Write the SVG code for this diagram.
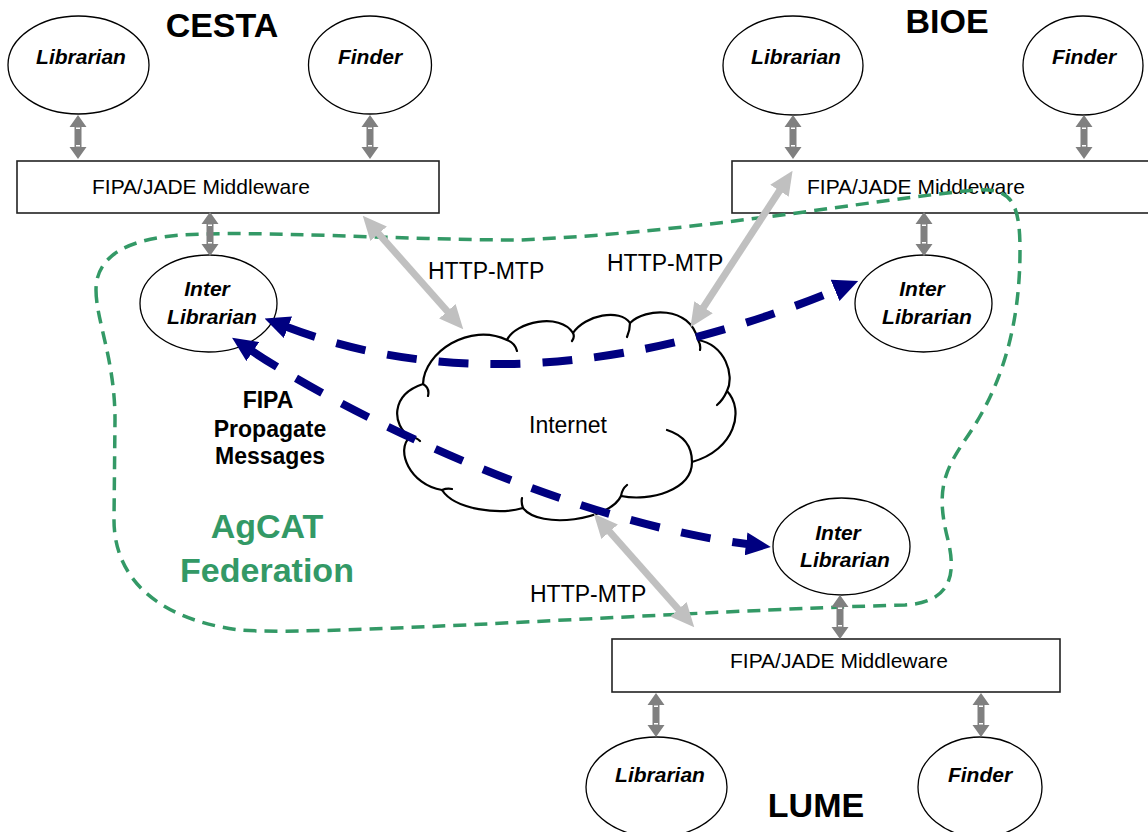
<svg xmlns="http://www.w3.org/2000/svg" width="1148" height="832" viewBox="0 0 1148 832">
<style>
text{font-family:"Liberation Sans",Arial,sans-serif;fill:#000}
.title{font-size:34px;font-weight:bold;text-anchor:middle}
.agent{font-size:21px;font-weight:bold;font-style:italic;text-anchor:middle}
.mw{font-size:21px}
.lbl{font-size:23px}
.fipa{font-size:23px;font-weight:bold;text-anchor:middle}
.fed{font-size:34px;font-weight:bold;text-anchor:middle;fill:#339966}
.node{fill:#fff;stroke:#000;stroke-width:1.3}
.box{fill:#fff;stroke:#222;stroke-width:1.6}
.cloud{fill:#fff;stroke:#000;stroke-width:2.2;stroke-linejoin:round}
.hook{fill:none;stroke:#000;stroke-width:2.2;stroke-linecap:round}
.http{stroke:#c0c0c0;stroke-width:7;fill:none;marker-start:url(#gh);marker-end:url(#gh)}
.fipaArrow{stroke:#000080;stroke-width:8;fill:none;stroke-dasharray:30 22;marker-start:url(#bh);marker-end:url(#bh)}
.boundary{fill:none;stroke:#339966;stroke-width:3.5;stroke-dasharray:13 8}
</style>
<defs>
<marker id="gh" markerUnits="userSpaceOnUse" markerWidth="24" markerHeight="22" viewBox="0 0 24 22" refX="1" refY="11" orient="auto-start-reverse"><path d="M0,0 L24,11 L0,22 Z" fill="#c0c0c0"/></marker>
<marker id="bh" markerUnits="userSpaceOnUse" markerWidth="25" markerHeight="23" viewBox="0 0 25 23" refX="1" refY="11.5" orient="auto-start-reverse"><path d="M0,0 L25,11.5 L0,23 Z" fill="#000080"/></marker>
<g id="va"><path d="M0,0 L8.5,12 L3.5,12 L3.5,32 L8.5,32 L0,44 L-8.5,32 L-3.5,32 L-3.5,12 L-8.5,12 Z" fill="#808080"/><rect x="-2" y="12.5" width="4" height="1.5" fill="#fff"/><rect x="-2" y="30" width="4" height="1.5" fill="#fff"/></g>
</defs>
<rect width="1148" height="832" fill="#fff"/>

<g id="titles">
<text class="title" x="222" y="37">CESTA</text>
<text class="title" x="947" y="33">BIOE</text>
<text class="title" x="816" y="817">LUME</text>
</g>

<g id="cesta-librarian"><ellipse class="node" cx="78.5" cy="65" rx="70.5" ry="49"/><text class="agent" x="81" y="64">Librarian</text></g>
<g id="cesta-finder"><ellipse class="node" cx="370" cy="65" rx="61.5" ry="49"/><text class="agent" x="370" y="64">Finder</text></g>
<g id="cesta-middleware"><rect class="box" x="17" y="161" width="422" height="52"/><text class="mw" x="92" y="194">FIPA/JADE Middleware</text></g>
<g id="cesta-inter"><ellipse class="node" cx="208.5" cy="303.5" rx="68.5" ry="48.5"/><text class="agent" x="207" y="296">Inter</text><text class="agent" x="212" y="324">Librarian</text></g>

<g id="bioe-librarian"><ellipse class="node" cx="793" cy="65.5" rx="70" ry="49.5"/><text class="agent" x="796" y="64">Librarian</text></g>
<g id="bioe-finder"><ellipse class="node" cx="1083" cy="65.5" rx="60" ry="49.5"/><text class="agent" x="1084" y="64">Finder</text></g>
<g id="bioe-middleware"><rect class="box" x="732" y="161" width="430" height="52"/><text class="mw" x="807" y="194">FIPA/JADE Middleware</text></g>
<g id="bioe-inter"><ellipse class="node" cx="923.5" cy="303.5" rx="68.5" ry="48.5"/><text class="agent" x="922" y="296">Inter</text><text class="agent" x="927" y="324">Librarian</text></g>

<g id="lume-inter"><ellipse class="node" cx="841.5" cy="546.5" rx="68.5" ry="48.5"/><text class="agent" x="838" y="540">Inter</text><text class="agent" x="845" y="567">Librarian</text></g>
<g id="lume-middleware"><rect class="box" x="612" y="639" width="448" height="53"/><text class="mw" x="730" y="668">FIPA/JADE Middleware</text></g>
<g id="lume-librarian"><ellipse class="node" cx="656.5" cy="787" rx="70.5" ry="50"/><text class="agent" x="660" y="782">Librarian</text></g>
<g id="lume-finder"><ellipse class="node" cx="980" cy="787" rx="62" ry="50"/><text class="agent" x="980" y="782">Finder</text></g>

<g id="federation">
<path class="boundary" d="M96 290 C96 320 115 360 115 420 L114 520 C114 580 160 620 240 630 C320 637 700 610 905 605 C955 602 955 570 948 540 C935 490 945 470 965 440 C1000 390 1020 330 1020 250 C1020 200 1010 188 975 190 C870 200 700 232 520 240 C400 240 260 230 180 235 C120 240 96 260 96 290 Z"/>
<text class="fed" x="267" y="538">AgCAT</text>
<text class="fed" x="267" y="582">Federation</text>
</g>

<g id="internet">
<path class="cloud" d="M423 384 C424 352 470 322 507 340 C515 322 560 312 573 333 C585 315 620 308 630 323 C645 308 690 305 698 340 C725 345 735 375 727 391 C745 410 735 450 692 462 C692 490 650 502 621 496 C610 520 540 530 523 508 C500 515 455 510 442 490 C410 485 395 450 410 437 C392 425 390 395 423 384 Z"/>
<path class="hook" d="M423 384 Q430 388 428 396 M507 340 Q515 343 517 351 M573 333 Q575 337 572 341 M630 323 Q630 330 627 337 M698 340 Q701 345 700 350 M727 391 Q723 400 717 405 M667 430 Q692 438 692 462 M621 496 Q622 489 627 485 M523 508 Q521 503 522 498 M442 490 Q447 488 452 489 M410 437 Q416 437 420 441"/>
<text class="lbl" x="568" y="433" text-anchor="middle">Internet</text>
</g>

<g id="connectors">
<use href="#va" x="78" y="115"/>
<use href="#va" x="370" y="115"/>
<use href="#va" x="210" y="212"/>
<use href="#va" x="793" y="115"/>
<use href="#va" x="1084" y="115"/>
<use href="#va" x="924" y="212"/>
<use href="#va" x="840" y="595"/>
<use href="#va" x="656" y="693"/>
<use href="#va" x="981" y="693"/>
<path class="http" d="M378 233 L448 312"/>
<path class="http" d="M780 190 L703 308"/>
<path class="http" d="M609 531 L679 610"/>
<path class="fipaArrow" d="M287 327 C400 370 580 395 836 290"/>
<path class="fipaArrow" d="M252 351 C340 410 560 520 747 544"/>
</g>

<g id="labels">
<text class="lbl" x="428" y="279">HTTP-MTP</text>
<text class="lbl" x="607" y="271">HTTP-MTP</text>
<text class="lbl" x="530" y="602">HTTP-MTP</text>
<text class="fipa" x="268" y="408">FIPA</text>
<text class="fipa" x="270" y="437">Propagate</text>
<text class="fipa" x="270" y="464">Messages</text>
</g>
</svg>
